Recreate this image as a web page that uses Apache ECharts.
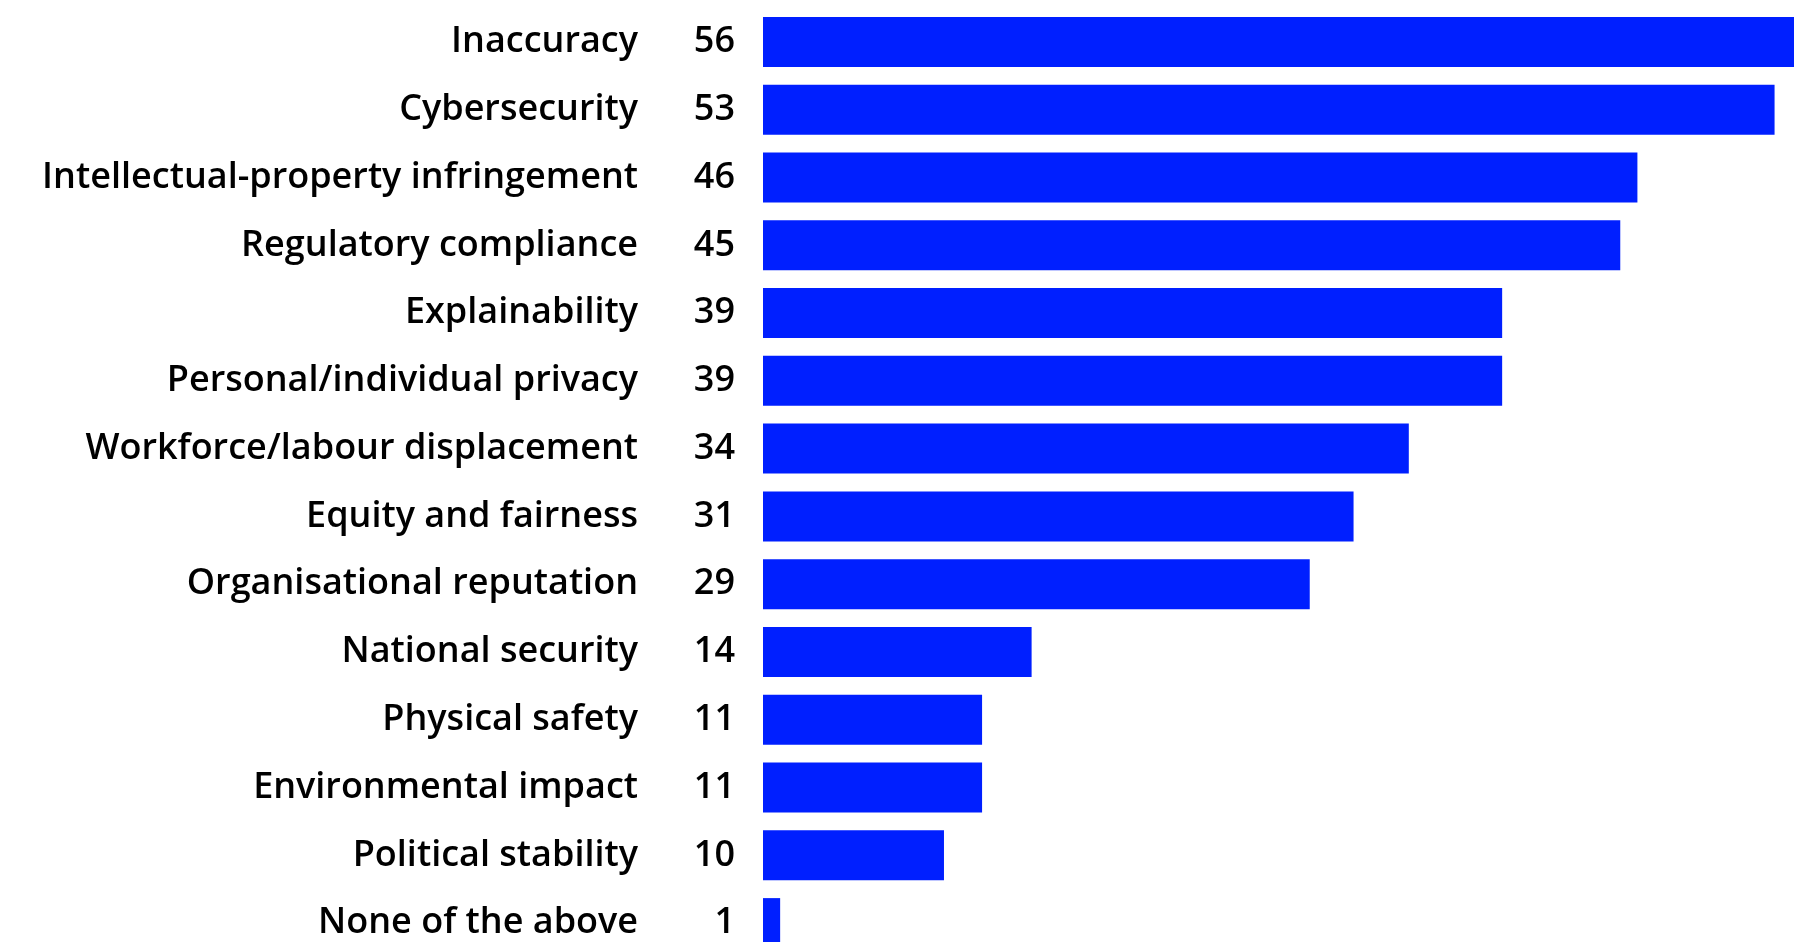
<!DOCTYPE html>
<html>
<head>
<meta charset="utf-8">
<script src="https://cdn.jsdelivr.net/npm/echarts@6/dist/echarts.min.js"></script>
<style>
  html, body { margin: 0; padding: 0; background: #ffffff; }
  #chart { width: 1794px; height: 942px; }
</style>
</head>
<body>
<div id="chart"></div>
<script>
const categories = [
  "Inaccuracy",
  "Cybersecurity",
  "Intellectual-property infringement",
  "Regulatory compliance",
  "Explainability",
  "Personal/individual privacy",
  "Workforce/labour displacement",
  "Equity and fairness",
  "Organisational reputation",
  "National security",
  "Physical safety",
  "Environmental impact",
  "Political stability",
  "None of the above"
];
// bar lengths
const shares = [56, 53.1, 45.9, 45.0, 38.8, 38.8, 33.9, 31.0, 28.7, 14.1, 11.5, 11.5, 9.5, 0.9];
// values printed beside the bars
const shareLabels = ["56", "53", "46", "45", "39", "39", "34", "31", "29", "14", "11", "11", "10", "1"];

const FONT = "Open Sans";
const chart = echarts.init(document.getElementById('chart'));
chart.setOption({
  animation: false,
  grid: { left: 763, width: 1031, top: 8, height: 949, containLabel: false, outerBoundsMode: 'none' },
  xAxis: {
    type: 'value', min: 0, max: 54.12, show: false,
    splitLine: { show: false }
  },
  yAxis: {
    type: 'category', data: categories, inverse: true,
    axisLine: { show: false }, axisTick: { show: false }, splitLine: { show: false },
    axisLabel: {
      margin: 125, color: '#000000', fontFamily: FONT, fontWeight: 600, fontSize: 36
    }
  },
  series: [{
    type: 'bar',
    data: shares,
    barWidth: 50,
    itemStyle: { color: '#001fff' },
    clip: true,
    label: {
      show: true, position: 'left', distance: 28,
      color: '#000000', fontFamily: FONT, fontWeight: 600, fontSize: 36,
      formatter: p => shareLabels[p.dataIndex]
    }
  }]
});
</script>
</body>
</html>
